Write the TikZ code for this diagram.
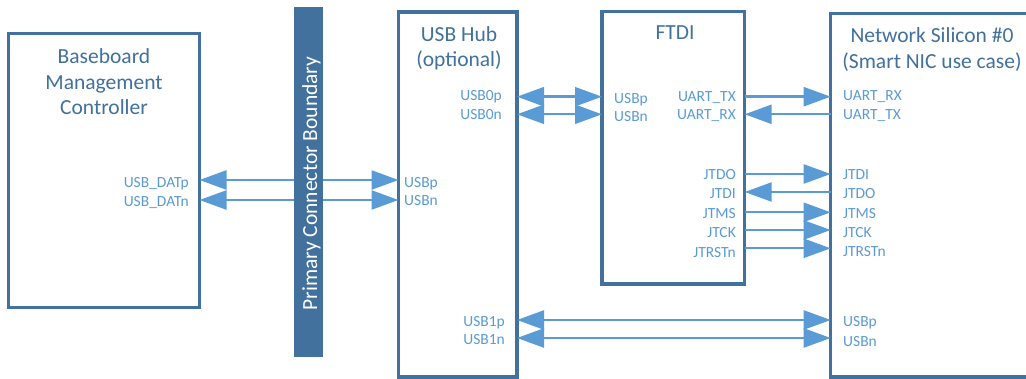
\documentclass[tikz,border=0pt]{standalone}
\usepackage{fontspec}
\setmainfont{Carlito}
\usetikzlibrary{arrows.meta}
\definecolor{boxblue}{HTML}{41719C}
\definecolor{sigblue}{HTML}{5B9BD5}
\tikzset{
  box/.style={draw=boxblue, line width=3.5pt, outer sep=0pt, inner sep=0pt, fill=white},
  title/.style={text=boxblue, font=\fontsize{21.5}{25.5}\selectfont, align=center, inner sep=0pt, anchor=base},
  sig/.style={text=sigblue, font=\fontsize{15.5}{18}\selectfont, inner sep=0pt},
  siglabr/.style={sig, anchor=base east},
  siglabl/.style={sig, anchor=base west},
  wire/.style={draw=sigblue, line width=2.4pt},
  tipA/.style={-{Triangle[length=27pt,width=19pt]}},
  tipB/.style={{Triangle[length=27pt,width=19pt]}-},
  tipAB/.style={{Triangle[length=27pt,width=19pt]}-{Triangle[length=27pt,width=19pt]}},
}
\begin{document}
\begin{tikzpicture}[x=1pt,y=-1pt]
\useasboundingbox (0,0) rectangle (1026,379);
\begin{scope}
\clip (0,0) rectangle (1026,379);
% boxes
\node[box, minimum width=191pt, minimum height=274pt] (bmc) at (104,170.5) {};
\node[box, minimum width=118.5pt, minimum height=365pt] (hub) at (457.75,194.5) {};
\node[box, minimum width=142.7pt, minimum height=272.7pt] (ftdi) at (673.35,147.65) {};
\node[box, minimum width=214.3pt, minimum height=363.3pt] (nic) at (937.85,195.35) {};

% titles (base anchor = baseline of last line)
\node[title] (bmct) at (104,115) {Baseboard\\Management\\Controller};
\node[title] (hubt) at (459,66.7) {USB Hub\\(optional)};
\node[title] (ftdit) at (675,40) {FTDI};
\node[title] (nict) at (932,68.3) {Network Silicon \#0\\(Smart NIC use case)};

% BMC <-> hub
\draw[wire,tipAB] (bmc.east |- 0,180) -- (hub.west |- 0,180);
\draw[wire,tipAB] (bmc.east |- 0,200) -- (hub.west |- 0,200);
% hub <-> ftdi
\draw[wire,tipAB] (hub.east |- 0,96.7) -- (ftdi.west |- 0,96.7);
\draw[wire,tipAB] (hub.east |- 0,114.3) -- (ftdi.west |- 0,114.3);
% hub <-> nic
\draw[wire,tipAB] (hub.east |- 0,320) -- (nic.west |- 0,320);
\draw[wire,tipAB] (hub.east |- 0,338) -- (nic.west |- 0,338);
% ftdi <-> nic
\draw[wire,tipA] (ftdi.east |- 0,96.7) -- (nic.west |- 0,96.7);
\draw[wire,tipB] (ftdi.east |- 0,114.3) -- (nic.west |- 0,114.3);
\draw[wire,tipA] (ftdi.east |- 0,174) -- (nic.west |- 0,174);
\draw[wire,tipB] (ftdi.east |- 0,192) -- (nic.west |- 0,192);
\draw[wire,tipA] (ftdi.east |- 0,212.3) -- (nic.west |- 0,212.3);
\draw[wire,tipA] (ftdi.east |- 0,230) -- (nic.west |- 0,230);
\draw[wire,tipA] (ftdi.east |- 0,248.3) -- (nic.west |- 0,248.3);

% connector boundary bar
\node[fill=boxblue, minimum width=29pt, minimum height=350pt, inner sep=0pt, outer sep=0pt] (bar) at (308.5,182) {};
\node[rotate=90, anchor=base, text=white, font=\fontsize{21.5}{25}\selectfont, inner sep=0pt] (bart) at (317,183.5) {Primary Connector Boundary};

% signal labels
\node[siglabr] (l1) at (189,187.3) {USB\_DATp};
\node[siglabr] (l2) at (189,206.5) {USB\_DATn};
\node[siglabl] (l3) at (404,187.3) {USBp};
\node[siglabl] (l4) at (404,205.7) {USBn};
\node[siglabr] (l5) at (502,101) {USB0p};
\node[siglabr] (l6) at (502,120) {USB0n};
\node[siglabr] (l7) at (505,326.7) {USB1p};
\node[siglabr] (l8) at (505,345) {USB1n};
\node[siglabl] (l9) at (614,103.3) {USBp};
\node[siglabl] (l10) at (614,121.7) {USBn};
\node[siglabr] (l11) at (736,101.7) {UART\_TX};
\node[siglabr] (l12) at (736,120) {UART\_RX};
\node[siglabr] (l13) at (736,180) {JTDO};
\node[siglabr] (l14) at (736,199) {JTDI};
\node[siglabr] (l15) at (736,219) {JTMS};
\node[siglabr] (l16) at (736,238) {JTCK};
\node[siglabr] (l17) at (736,257.3) {JTRSTn};
\node[siglabl] (l18) at (843,101) {UART\_RX};
\node[siglabl] (l19) at (843,120) {UART\_TX};
\node[siglabl] (l20) at (843,180) {JTDI};
\node[siglabl] (l21) at (843,199) {JTDO};
\node[siglabl] (l22) at (843,219) {JTMS};
\node[siglabl] (l23) at (843,238) {JTCK};
\node[siglabl] (l24) at (843,257) {JTRSTn};
\node[siglabl] (l25) at (843,326.7) {USBp};
\node[siglabl] (l26) at (843,346.7) {USBn};
\end{scope}
\end{tikzpicture}
\end{document}
